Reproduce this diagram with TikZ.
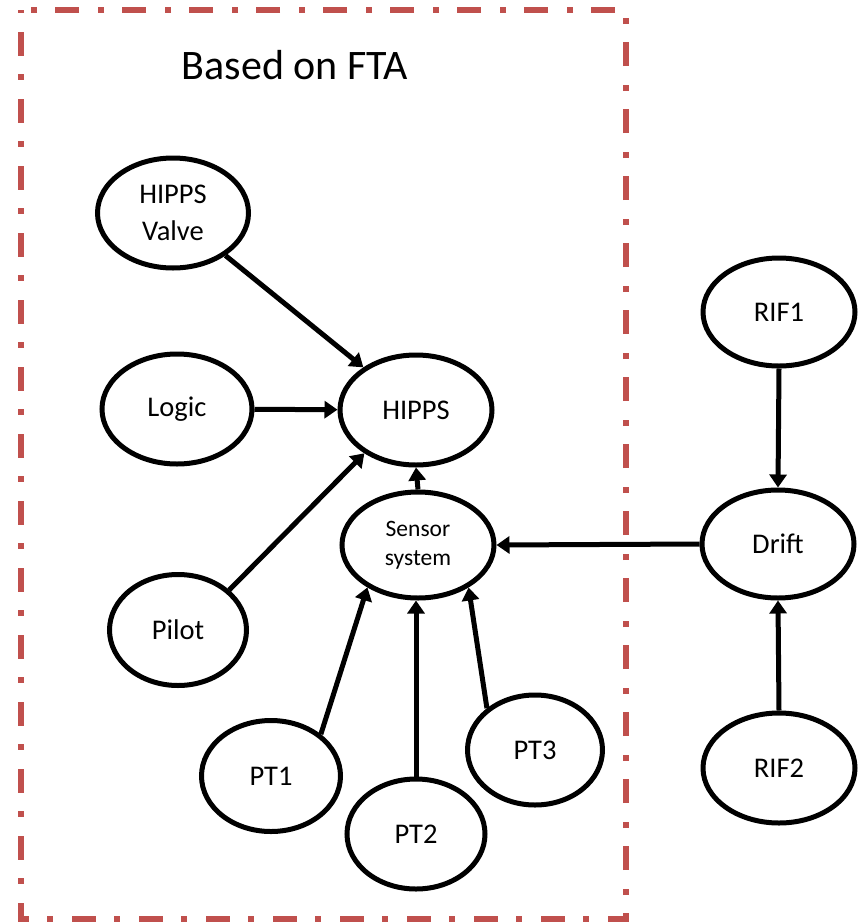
\documentclass[tikz,border=0pt]{standalone}
\usepackage{fontspec}
\setmainfont{Carlito}
\usetikzlibrary{shapes.geometric,arrows.meta}
\definecolor{framered}{RGB}{192,80,77}
\tikzset{
  event/.style={draw=black, line width=5pt, ellipse, inner sep=0pt, align=center,
    font=\fontsize{28.5}{37}\selectfont},
  link/.style={line width=5pt, -{Triangle[length=13pt,width=17pt]}},
  frame/.style={draw=framered, line width=6pt,
    dash pattern=on 6pt off 19pt on 24pt off 18pt, dash phase=3pt}
}
\begin{document}
\begin{tikzpicture}[x=1pt,y=-1pt]
  \useasboundingbox (0,0) rectangle (863,924);

  % FTA boundary
  \draw[frame] (21,10) rectangle (626,919);
  \node[anchor=base, font=\fontsize{42}{50}\selectfont] (title) at (295,79) {Based on FTA};

  % events
  \node[event, minimum width=151pt, minimum height=110pt] (valve)  at (173,213) {HIPPS\\Valve};
  \node[event, minimum width=150pt, minimum height=110pt] (logic)  at (177,409) {Logic};
  \node[event, minimum width=152pt, minimum height=110pt] (hipps)  at (416,410) {HIPPS};
  \node[event, minimum width=152pt, minimum height=106pt,
        font=\fontsize{23.5}{29}\selectfont]               (sensor) at (418,545) {Sensor\\system};
  \node[event, minimum width=137pt, minimum height=111pt] (pilot)  at (178,630) {Pilot};
  \node[event, minimum width=139pt, minimum height=111pt] (pt1)    at (271,776) {PT1};
  \node[event, minimum width=138pt, minimum height=110pt] (pt2)    at (416,834) {PT2};
  \node[event, minimum width=135pt, minimum height=110pt] (pt3)    at (535,750) {PT3};
  \node[event, minimum width=152pt, minimum height=108pt] (rif1)   at (779,312) {RIF1};
  \node[event, minimum width=152pt, minimum height=108pt] (drift)  at (778,544) {Drift};
  \node[event, minimum width=152pt, minimum height=110pt] (rif2)   at (779,768) {RIF2};

  % influences
  \draw[link] (valve) -- (hipps);
  \draw[link] (logic) -- (hipps);
  \draw[link] (pilot.38) -- (hipps.220);
  \draw[link] (sensor.north) -- (hipps.south);
  \draw[link] (pt1.40) -- (sensor.220);
  \draw[link] (pt2.north) -- (pt2.north |- sensor.south);
  \draw[link] (pt3.139) -- (sensor.320);
  \draw[link] (drift.west) -- (sensor.east);
  \draw[link] (rif1.south) -- (drift.north);
  \draw[link] (rif2.north) -- (drift.south);
\end{tikzpicture}
\end{document}
